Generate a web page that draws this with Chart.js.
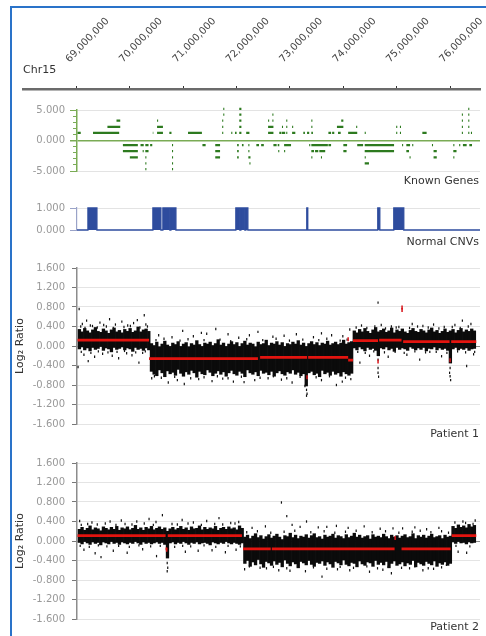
<!DOCTYPE html>
<html><head><meta charset="utf-8">
<script src="https://cdn.jsdelivr.net/npm/chart.js@4"></script>
<style>
html,body{margin:0;padding:0;background:#fff;width:486px;height:636px;overflow:hidden;}
#frame{position:absolute;left:10px;top:6px;width:600px;height:700px;border-left:2px solid #2a73c9;border-top:2px solid #2a73c9;}
canvas{position:absolute;left:0;}
.lbl{position:absolute;font:11px "DejaVu Sans",sans-serif;color:#333;line-height:13px;white-space:nowrap;}
.r{right:7px;text-align:right;}
</style></head><body>
<div id="frame"></div>
<canvas id="ruler" width="486" height="92" style="top:0"></canvas>
<canvas id="genes" width="486" height="84" style="top:98px"></canvas>
<canvas id="cnv" width="486" height="38" style="top:198px"></canvas>
<canvas id="p1" width="486" height="176" style="top:255px"></canvas>
<canvas id="p2" width="486" height="176" style="top:450px"></canvas>
<div class="lbl" style="left:23px;top:63px">Chr15</div>
<div class="lbl r" style="top:174px">Known Genes</div>
<div class="lbl r" style="top:235px">Normal CNVs</div>
<div class="lbl r" style="top:427px">Patient 1</div>
<div class="lbl r" style="top:620px">Patient 2</div>
<script>
// positions in Mb along chr15
const rulerTicks = [69, 70, 71, 72, 73, 74, 75, 76];

// known genes: [start, end] per track level
const genesUp1 = [[69.03,69.09],[69.32,69.81],[70.17,70.18],[70.44,70.45],[70.52,70.63],[70.75,70.79],[71.10,71.36],[71.74,71.76],[71.91,71.93],[71.98,72.01],[72.06,72.10],[72.19,72.25],[72.40,72.41],[72.60,72.70],[72.81,72.85],[72.86,72.92],[72.94,72.96],[73.05,73.11],[73.26,73.29],[73.33,73.37],[73.41,73.44],[73.73,73.78],[73.80,73.84],[73.91,73.96],[74.10,74.27],[74.41,74.43],[75.00,75.02],[75.07,75.09],[75.49,75.57],[76.23,76.25],[76.35,76.37],[76.40,76.42]];
const genesUp2 = [[69.59,69.83],[70.52,70.63],[71.74,71.76],[72.06,72.10],[72.40,72.41],[72.60,72.70],[72.86,72.88],[72.94,72.96],[73.05,73.07],[73.28,73.29],[73.41,73.43],[73.73,73.74],[73.89,74.01],[74.25,74.27],[75.00,75.02],[75.07,75.09],[76.23,76.25],[76.35,76.37]];
const genesUp3 = [[69.76,69.83],[70.52,70.54],[71.74,71.76],[72.06,72.10],[72.60,72.62],[72.68,72.70],[72.94,72.96],[73.28,73.29],[73.41,73.43],[73.97,74.01],[76.23,76.25],[76.35,76.37]];
const genesUp4 = [[71.76,71.78],[72.06,72.10],[72.68,72.70],[76.23,76.25],[76.35,76.37]];
const genesUp5 = [[71.76,71.78],[72.06,72.10],[76.35,76.37]];
const genesDn1 = [[69.88,70.16],[70.21,70.27],[70.30,70.36],[70.39,70.43],[70.80,70.82],[71.37,71.43],[71.61,71.70],[72.02,72.05],[72.11,72.14],[72.23,72.25],[72.38,72.43],[72.47,72.52],[72.70,72.76],[72.78,72.81],[72.90,73.03],[73.37,73.39],[73.41,73.72],[73.73,73.78],[74.01,74.08],[74.27,74.38],[74.41,74.96],[75.11,75.13],[75.19,75.26],[75.30,75.32],[75.54,75.55],[75.67,75.69],[76.07,76.09],[76.18,76.20],[76.25,76.32],[76.37,76.42]];
const genesDn2 = [[69.88,70.16],[70.25,70.27],[70.30,70.36],[70.80,70.82],[71.61,71.70],[72.02,72.05],[72.23,72.25],[72.79,72.81],[72.90,72.92],[73.41,73.46],[73.48,73.54],[73.56,73.67],[74.01,74.07],[74.41,74.96],[75.19,75.24],[75.70,75.76],[76.07,76.13]];
const genesDn3 = [[70.01,70.16],[70.30,70.32],[70.80,70.82],[71.61,71.70],[72.02,72.05],[72.23,72.27],[73.41,73.43],[73.59,73.61],[74.41,74.43],[75.25,75.27],[75.70,75.76],[76.07,76.09]];
const genesDn4 = [[70.30,70.32],[70.80,70.82],[72.25,72.27],[74.41,74.49]];
const genesDn5 = [[70.30,70.32],[70.80,70.82]];
const geneLevels = [1.25, 2.25, 3.25, 4.25, 5.2, -0.75, -1.75, -2.75, -3.75, -4.7];

// normal CNVs
const cnvStarts = [69.225, 70.442, 70.629, 70.779, 71.996, 72.090, 72.184, 73.325, 74.655, 74.955];
const cnvEnds   = [69.393, 70.592, 70.760, 70.873, 72.071, 72.165, 72.221, 73.343, 74.693, 75.142];

// patient 1: dense probe band per 0.05 Mb bin (upper / lower edge)
const p1aHi = [0.34,0.29,0.36,0.31,0.27,0.33,0.38,0.30,0.28,0.35,0.31,0.26,0.33,0.37,0.29,0.32,0.27,0.34,0.30,0.36,0.28,0.31,0.39,0.29,0.33,0.35,0.30];
const p1aLo = [-0.06,-0.02,-0.08,-0.04,-0.10,-0.03,-0.07,-0.05,-0.01,-0.09,-0.04,-0.06,-0.12,-0.03,-0.07,-0.05,-0.02,-0.08,-0.04,-0.06,-0.11,-0.03,-0.07,-0.05,-0.09,-0.04,-0.08];
const p1bHi = [0.05,0.01,0.08,-0.02,0.04,0.10,0.02,-0.01,0.06,0.03,0.09,0.00,0.04,0.07,-0.02,0.05,0.02,0.11,0.03,-0.01,0.06,0.04,0.08,0.01,0.05,0.13,0.02,0.06,-0.01,0.04,0.09,0.03,0.07,0.00,0.05,0.10,0.02,0.06,0.04,-0.02,0.08,0.03,0.05,0.12,0.01,0.06,0.04,0.09,0.02,0.07,-0.01,0.05,0.03,0.08,0.04,0.11,0.02,0.06,0.00,0.05,0.09,0.03,0.07,0.01,0.06,0.04,0.10,0.02,0.05,0.08,0.03,0.06,0.12,0.04,0.07,0.09];
const p1bLo = [-0.52,-0.58,-0.61,-0.49,-0.55,-0.63,-0.51,-0.57,-0.54,-0.60,-0.48,-0.56,-0.62,-0.53,-0.58,-0.50,-0.55,-0.64,-0.52,-0.57,-0.59,-0.49,-0.54,-0.61,-0.56,-0.51,-0.58,-0.53,-0.62,-0.55,-0.50,-0.57,-0.60,-0.52,-0.56,-0.63,-0.49,-0.55,-0.58,-0.53,-0.61,-0.50,-0.56,-0.54,-0.59,-0.52,-0.62,-0.55,-0.51,-0.57,-0.60,-0.53,-0.56,-0.49,-0.58,-0.54,-0.61,-0.57,-0.82,-0.55,-0.52,-0.59,-0.56,-0.63,-0.50,-0.57,-0.54,-0.60,-0.52,-0.58,-0.55,-0.62,-0.53,-0.57,-0.60,-0.56];
const p1cHi = [0.31,0.27,0.34,0.29,0.36,0.30,0.26,0.33,0.38,0.29,0.32,0.35,0.28,0.31,0.37,0.27,0.33,0.30,0.35,0.29,0.26,0.32,0.36,0.30,0.28,0.34,0.31,0.27,0.33,0.37,0.29,0.32,0.26,0.30,0.35,0.28,0.31,0.34,0.27,0.32,0.36,0.29,0.33,0.30,0.35,0.31];
const p1cLo = [-0.04,-0.08,-0.02,-0.06,-0.10,-0.03,-0.07,-0.05,-0.09,-0.20,-0.04,-0.06,-0.02,-0.08,-0.05,-0.11,-0.03,-0.07,-0.04,-0.06,-0.09,-0.02,-0.05,-0.08,-0.04,-0.07,-0.03,-0.10,-0.05,-0.06,-0.02,-0.08,-0.04,-0.07,-0.05,-0.09,-0.35,-0.06,-0.03,-0.08,-0.05,-0.07,-0.04,-0.09,-0.06,-0.05];
const p1BandStarts = [69.04, 70.39, 74.19];
// segmentation: [start, end, log2 ratio]
const p1Segments = [[69.03,70.37,0.12],[70.37,72.41,-0.26],[72.45,73.33,-0.235],[73.35,74.10,-0.235],[74.10,74.19,-0.29],[74.19,74.66,0.11],[74.68,75.10,0.12],[75.13,76.00,0.09],[76.03,76.50,0.09]];
const p1Sparse = [[69.06,0.76],[69.04,-0.43],[69.23,-0.31],[70.18,-0.34],[70.28,0.63],[69.12,0.45],[69.2,0.52],[69.31,0.41],[69.45,0.48],[69.52,0.43],[69.63,0.55],[69.74,0.44],[69.86,0.5],[69.97,0.42],[70.08,0.47],[70.15,0.53],[70.31,0.44],[69.15,-0.18],[69.35,-0.22],[69.5,-0.16],[69.68,-0.2],[69.8,-0.25],[69.95,-0.15],[70.05,-0.19],[70.25,-0.14],
  [69.09,0.4],[69.17,0.37],[69.27,0.42],[69.4,0.38],[69.57,0.4],[69.7,0.37],[69.9,0.39],[70.02,0.41],[70.2,0.38],[70.34,0.4],[69.1,-0.12],[69.28,-0.14],[69.42,-0.11],[69.6,-0.13],[69.77,-0.12],[69.91,-0.1],[70.12,-0.13],[70.3,-0.11],
  [71.0,0.31],[71.62,0.35],[71.45,0.25],[70.55,0.22],[70.8,0.18],[71.2,0.2],[71.85,0.24],[72.05,0.17],[72.41,0.29],[72.69,0.19],[73.13,0.24],[73.79,0.22],[74.13,0.34],[72.9,0.21],[73.45,0.18],[73.6,0.26],[74.0,0.2],[71.35,0.27],[72.25,0.22],
  [70.5,0.12],[70.65,0.15],[70.95,0.11],[71.1,0.14],[71.4,0.12],[71.7,0.13],[71.9,0.1],[72.2,0.14],[72.5,0.12],[72.75,0.15],[73.0,0.11],[73.25,0.13],[73.55,0.12],[73.7,0.15],[73.95,0.11],[74.08,0.13],
  [70.73,-0.75],[71.03,-0.78],[70.42,-0.66],[71.95,-0.73],[72.15,-0.74],[72.6,-0.66],[73.32,-0.9],[73.33,-0.98],[73.32,-1.02],[73.29,-0.82],[73.88,-0.8],[73.99,-0.73],[70.9,-0.7],[71.3,-0.68],[71.55,-0.72],[71.75,-0.67],[72.35,-0.7],[72.85,-0.69],[73.05,-0.75],[73.6,-0.7],[74.15,-0.68],
  [70.47,-0.62],[70.6,-0.65],[70.85,-0.63],[71.15,-0.66],[71.4,-0.64],[71.65,-0.62],[71.85,-0.66],[72.1,-0.63],[72.45,-0.65],[72.7,-0.62],[72.95,-0.66],[73.2,-0.63],[73.5,-0.64],[73.75,-0.62],[74.05,-0.65],
  [74.66,0.89],[75.3,0.45],[76.24,0.52],[74.72,0.43],[74.91,0.4],[74.35,0.42],[75.0,0.38],[75.5,0.41],[75.7,0.44],[75.9,0.39],[76.1,0.43],[76.4,0.45],
  [74.25,0.38],[74.45,0.37],[74.6,0.4],[74.8,0.36],[75.05,0.39],[75.25,0.37],[75.4,0.4],[75.6,0.38],[75.8,0.36],[76.05,0.39],[76.2,0.37],[76.35,0.4],
  [74.32,-0.34],[74.66,-0.28],[74.66,-0.45],[74.66,-0.55],[74.67,-0.63],[75.44,-0.28],[76.32,-0.41],[76.01,-0.45],[76.0,-0.55],[76.01,-0.62],[76.02,-0.7],[75.63,-0.12],[74.5,-0.2],[74.85,-0.22],[75.2,-0.18],[75.85,-0.21],[76.45,-0.17],
  [74.28,-0.12],[74.42,-0.14],[74.58,-0.11],[74.78,-0.13],[74.98,-0.12],[75.15,-0.14],[75.35,-0.11],[75.55,-0.13],[75.75,-0.12],[75.95,-0.14],[76.15,-0.11],[76.3,-0.13],[76.47,-0.12]];
const p1Flagged = [[75.11,0.74],[75.11,0.79],[73.33,-0.64],[74.66,-0.32],[76.01,-0.29],[74.1,0.14]];

// patient 2
const p2aHi = [0.24,0.28,0.22,0.26,0.31,0.23,0.27,0.25,0.21,0.29,0.26,0.23,0.28,0.24,0.30,0.22,0.27,0.25,0.29,0.23,0.26,0.32,0.24,0.27,0.22,0.28,0.25,0.30,0.23,0.26,0.29,0.24,0.27,0.20,0.25,0.28,0.23,0.26,0.30,0.24,0.27,0.22,0.29,0.25,0.26,0.31,0.23,0.28,0.24,0.27,0.25,0.30,0.22,0.26,0.28,0.24,0.29,0.25,0.27,0.23,0.31,0.26];
const p2aLo = [-0.03,-0.06,-0.01,-0.04,-0.07,-0.02,-0.05,-0.03,-0.08,-0.02,-0.04,-0.06,-0.01,-0.05,-0.03,-0.07,-0.02,-0.04,-0.06,-0.03,-0.05,-0.01,-0.04,-0.07,-0.02,-0.05,-0.03,-0.06,-0.04,-0.02,-0.05,-0.03,-0.07,-0.35,-0.04,-0.02,-0.06,-0.03,-0.05,-0.01,-0.04,-0.07,-0.03,-0.05,-0.02,-0.06,-0.04,-0.03,-0.05,-0.08,-0.02,-0.04,-0.06,-0.03,-0.05,-0.01,-0.04,-0.06,-0.03,-0.05,-0.07,-0.04];
const p2cHi = [0.08,0.12,0.05,0.10,0.15,0.07,0.11,0.04,0.09,0.13,0.06,0.10,0.14,0.08,0.03,0.11,0.09,0.16,0.07,0.12,0.05,0.10,0.08,0.13,0.06,0.11,0.15,0.07,0.09,0.04,0.12,0.08,0.10,0.14,0.06,0.11,0.09,0.05,0.13,0.07,0.10,0.16,0.08,0.12,0.06,0.09,0.11,0.04,0.13,0.08,0.10,0.07,0.14,0.09,0.05,0.12,0.08,0.11,0.06,0.10,0.13,0.07,0.09,0.15,0.05,0.11,0.08,0.12,0.06,0.10,0.14,0.07,0.09,0.11,0.05,0.12,0.08,0.10];
const p2cLo = [-0.46,-0.40,-0.52,-0.43,-0.49,-0.38,-0.47,-0.54,-0.42,-0.45,-0.50,-0.41,-0.48,-0.44,-0.53,-0.39,-0.46,-0.51,-0.43,-0.47,-0.55,-0.42,-0.45,-0.49,-0.40,-0.48,-0.52,-0.44,-0.46,-0.41,-0.50,-0.43,-0.47,-0.54,-0.42,-0.45,-0.49,-0.39,-0.48,-0.51,-0.44,-0.46,-0.53,-0.41,-0.47,-0.50,-0.43,-0.45,-0.52,-0.40,-0.48,-0.44,-0.49,-0.42,-0.55,-0.46,-0.41,-0.50,-0.47,-0.43,-0.51,-0.45,-0.48,-0.40,-0.53,-0.44,-0.47,-0.50,-0.42,-0.46,-0.49,-0.41,-0.52,-0.45,-0.48,-0.43,-0.50,-0.46];
const p2dHi = [0.30,0.26,0.33,0.28,0.31,0.27,0.34,0.29,0.32];
const p2dLo = [-0.02,-0.05,-0.01,-0.04,-0.03,-0.06,-0.02,-0.04,-0.03];
const p2BandStarts = [69.04, 72.14, 76.04];
const p2Segments = [[69.03,70.68,0.11],[70.68,70.71,-0.16],[70.72,72.11,0.11],[72.13,72.65,-0.16],[72.67,74.97,-0.16],[75.10,76.02,-0.16],[76.04,76.50,0.11]];
const p2Sparse = [[69.07,0.41],[70.62,0.53],[70.37,0.45],[70.99,0.43],[71.68,0.47],[69.64,0.4],[70.14,0.4],[69.3,0.38],[69.85,0.42],[70.5,0.39],[71.2,0.38],[71.45,0.41],[71.9,0.37],[72.05,0.39],
  [69.1,0.33],[69.22,0.35],[69.4,0.34],[69.55,0.36],[69.75,0.33],[69.92,0.35],[70.05,0.34],[70.28,0.36],[70.45,0.33],[70.8,0.35],[70.9,0.34],[71.1,0.36],[71.35,0.33],[71.6,0.35],[71.75,0.34],[71.98,0.36],
  [69.47,-0.33],[69.36,-0.25],[69.96,-0.24],[70.51,-0.31],[71.29,-0.2],[70.71,-0.45],[70.72,-0.55],[70.71,-0.62],[69.15,-0.18],[69.7,-0.2],[70.25,-0.17],[71.05,-0.22],[71.55,-0.19],[71.8,-0.23],[72.0,-0.18],
  [69.08,-0.1],[69.25,-0.12],[69.42,-0.09],[69.58,-0.11],[69.8,-0.1],[70.0,-0.12],[70.18,-0.09],[70.4,-0.11],[70.58,-0.1],[70.85,-0.12],[71.0,-0.1],[71.15,-0.11],[71.4,-0.09],[71.62,-0.12],[71.85,-0.1],[72.08,-0.11],
  [72.85,0.79],[72.95,0.51],[73.32,0.4],[73.54,0.28],[73.88,0.31],[74.94,0.26],[75.12,0.26],[75.57,0.24],[73.2,0.29],[72.3,0.27],[72.55,0.3],[73.05,0.33],[73.7,0.29],[74.1,0.27],[74.4,0.3],[74.7,0.25],[75.35,0.28],[75.8,0.27],
  [72.2,0.18],[72.4,0.2],[72.65,0.17],[72.9,0.19],[73.1,0.21],[73.4,0.18],[73.65,0.2],[73.85,0.17],[74.05,0.19],[74.25,0.21],[74.55,0.18],[74.8,0.2],[75.05,0.17],[75.3,0.19],[75.45,0.21],[75.65,0.18],[75.85,0.2],[75.98,0.17],
  [73.61,-0.73],[74.91,-0.66],[72.16,-0.58],[72.57,-0.56],[73.01,-0.61],[74.13,-0.6],[75.25,-0.56],[75.94,-0.49],[72.8,-0.6],[73.3,-0.62],[73.9,-0.58],[74.5,-0.63],[74.75,-0.59],[75.5,-0.6],[75.7,-0.57],
  [72.25,-0.52],[72.45,-0.55],[72.7,-0.53],[72.95,-0.56],[73.15,-0.52],[73.45,-0.54],[73.7,-0.57],[73.95,-0.53],[74.2,-0.55],[74.45,-0.52],[74.65,-0.56],[74.85,-0.53],[75.1,-0.55],[75.35,-0.52],[75.6,-0.56],[75.85,-0.54],
  [76.44,0.35],[76.32,-0.24],[76.16,-0.22],[76.25,0.4],[76.48,0.42],[76.1,0.38],[76.3,0.37],[76.12,-0.1],[76.38,-0.11]];
const p2Flagged = [[70.70,-0.18],[74.98,0.06]];

const BIN = 0.05, MB_MIN = 69.02, MB_MAX = 76.57;
const GENE_GREEN = '#2d7a1f', AXIS_GREEN = '#7aab55', CNV_BLUE = '#2e4c9e';

Chart.defaults.font.family = '"DejaVu Sans", sans-serif';
const base = { animation:false, responsive:false, events:[], plugins:{legend:{display:false}, tooltip:{enabled:false}} };
const fixLeft = s => { s.width = 77; s.paddingTop = 0; s.paddingBottom = 0; };
const tickFont = { family:'"DejaVu Sans", sans-serif', size:10 };
const hiddenX = { type:'linear', min:MB_MIN, max:MB_MAX, display:false, offset:false };

// ruler
new Chart(document.getElementById('ruler'), {
  type:'line', data:{datasets:[]},
  options:{ ...base, layout:{padding:{top:2, left:23, right:6, bottom:0}},
    scales:{
      x:{ type:'linear', position:'top', min:68.0, max:76.56,
        afterBuildTicks: s => { s.ticks = rulerTicks.map(v => ({value:v})); },
        afterFit: s => { s.height = 87; s.paddingLeft = 0; s.paddingRight = 0; },
        ticks:{ autoSkip:false, minRotation:46, maxRotation:46, padding:21, color:'#444', font:{size:10},
          callback: v => (v*1e6).toLocaleString('en-US') },
        grid:{ drawOnChartArea:false, tickLength:3, tickColor:'#333', tickWidth:1 },
        border:{ color:'#6b6b6b', width:2.5 } },
      y:{ display:false }
    } }
});

// known genes
const genePts = [];
[genesUp1, genesUp2, genesUp3, genesUp4, genesUp5, genesDn1, genesDn2, genesDn3, genesDn4, genesDn5].forEach((row, k) => {
  row.forEach(([s, e]) => { genePts.push({x:s, y:geneLevels[k]}, {x:e, y:geneLevels[k]}, {x:e, y:null}); });
});
new Chart(document.getElementById('genes'), {
  type:'line',
  data:{ datasets:[{ data:genePts, borderColor:GENE_GREEN, borderWidth:2.2, borderCapStyle:'butt', pointRadius:0, spanGaps:false, clip:false }] },
  options:{ ...base, layout:{padding:{top:12, bottom:11, left:0, right:6}},
    scales:{
      x: hiddenX,
      y:{ type:'linear', position:'left', min:-5, max:5, weight:1, afterFit:fixLeft,
        ticks:{ stepSize:5, autoSkip:false, includeBounds:false, padding:5, color:'#999', font:tickFont, callback: v => v.toFixed(3) },
        grid:{ color: c => c.tick && c.tick.value === 0 ? AXIS_GREEN : '#e3e3e3', lineWidth: c => c.tick && c.tick.value === 0 ? 1.5 : 1, tickColor:AXIS_GREEN, tickLength:7 },
        border:{ color:AXIS_GREEN, width:1.5 } },
      yMinor:{ type:'linear', position:'left', min:-5, max:5, weight:0,
        afterFit: s => { s.width = 0; s.paddingTop = 0; s.paddingBottom = 0; },
        ticks:{ display:false, stepSize:1, autoSkip:false },
        grid:{ drawOnChartArea:false, tickColor:AXIS_GREEN, tickLength:4 },
        border:{ display:false } }
    } }
});

// normal CNVs
const cnvPts = [{x:MB_MIN, y:0}];
cnvStarts.forEach((s, i) => { cnvPts.push({x:s, y:0}, {x:s, y:1}, {x:cnvEnds[i], y:1}, {x:cnvEnds[i], y:0}); });
cnvPts.push({x:MB_MAX, y:0});
new Chart(document.getElementById('cnv'), {
  type:'line',
  data:{ datasets:[{ data:cnvPts, borderColor:CNV_BLUE, backgroundColor:CNV_BLUE, borderWidth:1.3, fill:'origin', pointRadius:0, tension:0, clip:false }] },
  options:{ ...base, layout:{padding:{top:10, bottom:6, left:0, right:6}},
    scales:{
      x: hiddenX,
      y:{ type:'linear', min:0, max:1, afterFit:fixLeft,
        ticks:{ stepSize:1, autoSkip:false, padding:5, color:'#999', font:tickFont, callback: v => v.toFixed(3) },
        grid:{ color: c => c.tick && c.tick.value === 1 ? '#e3e3e3' : 'rgba(0,0,0,0)', tickColor:'#9aa3c8', tickLength:7 },
        border:{ color:'#9aa3c8', width:1.2 } }
    } }
});

// patient panels
function patientChart(id, starts, his, los, segs, sparse, flagged) {
  const bars = [];
  starts.forEach((st, k) => { his[k].forEach((h, i) => bars.push({x: st + BIN*(i + 0.5), y:[los[k][i], h]})); });
  const segPts = [];
  segs.forEach(([s, e, v]) => segPts.push({x:s, y:v}, {x:e, y:v}, {x:e, y:null}));
  new Chart(document.getElementById(id), {
    type:'bar',
    data:{ datasets:[
      { type:'line', data:segPts, borderColor:'#e3140f', borderWidth:2.8, borderCapStyle:'butt', pointRadius:0, spanGaps:false, order:0 },
      { type:'scatter', data:flagged.map(([x, y]) => ({x, y})), pointStyle:'line', rotation:90, pointRadius:2, pointBorderWidth:1.5, pointBorderColor:'#d8141a', order:1 },
      { type:'scatter', data:sparse.map(([x, y]) => ({x, y})), pointStyle:'line', rotation:90, pointRadius:1.2, pointBorderWidth:1.2, pointBorderColor:'#111', order:2 },
      { type:'bar', data:bars, backgroundColor:'#0b0b0b', borderWidth:0, barPercentage:1, categoryPercentage:1, grouped:false, order:3 }
    ] },
    options:{ ...base, layout:{padding:{top:13, bottom:7, left:0, right:6}},
      scales:{
        x: hiddenX,
        y:{ type:'linear', min:-1.6, max:1.6, afterFit:fixLeft,
          ticks:{ stepSize:0.4, autoSkip:false, padding:7, color:'#999', font:tickFont, callback: v => v.toFixed(3) },
          grid:{ color: c => c.tick && Math.abs(c.tick.value) < 1e-9 ? '#8a8a8a' : '#e4e4e4', tickColor:'#777', tickLength:5 },
          border:{ color:'#8c8c8c', width:1.5 },
          title:{ display:true, text:'Log\u2082 Ratio', color:'#333', font:{size:11}, padding:{top:14, bottom:0} } }
      } }
  });
}
patientChart('p1', p1BandStarts, [p1aHi, p1bHi, p1cHi], [p1aLo, p1bLo, p1cLo], p1Segments, p1Sparse, p1Flagged);
patientChart('p2', p2BandStarts, [p2aHi, p2cHi, p2dHi], [p2aLo, p2cLo, p2dLo], p2Segments, p2Sparse, p2Flagged);
</script>
</body></html>
